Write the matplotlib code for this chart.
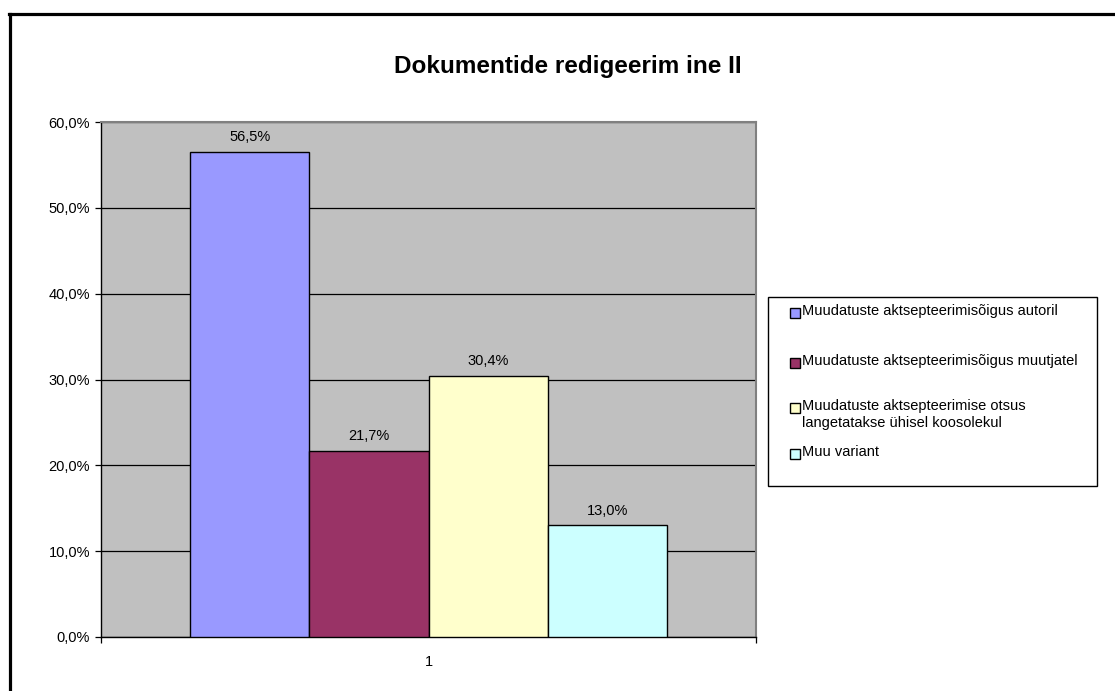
import matplotlib
matplotlib.use("Agg")
import matplotlib.pyplot as plt
from matplotlib.patches import Rectangle
from matplotlib.lines import Line2D
import numpy as np

plt.rcParams["font.family"] = ["Liberation Sans", "DejaVu Sans"]

# data
title = "Dokumentide redigeerim ine II"
categories = ["1"]
series_labels = [
    "Muudatuste aktsepteerimisõigus autoril",
    "Muudatuste aktsepteerimisõigus muutjatel",
    "Muudatuste aktsepteerimise otsus\nlangetatakse ühisel koosolekul",
    "Muu variant",
]
values = [56.5, 21.7, 30.4, 13.0]
value_labels = ["56,5%", "21,7%", "30,4%", "13,0%"]
y_ticks = [0, 10, 20, 30, 40, 50, 60]
y_tick_labels = ["0,0%", "10,0%", "20,0%", "30,0%", "40,0%", "50,0%", "60,0%"]

# styling
colors = ["#9999ff", "#993366", "#ffffcc", "#ccffff"]
W, H = 1115, 691
fs = 10.5

fig = plt.figure(figsize=(W / 100, H / 100), dpi=100)
fig.patch.set_facecolor("white")

# outer chart frame (only top and left visible in the crop)
fig.add_artist(Line2D([9.5 / W, 9.5 / W], [0, 1 - 13.5 / H], transform=fig.transFigure,
                      color="black", lw=2.3))
fig.add_artist(Line2D([8.5 / W, 1], [1 - 13.5 / H, 1 - 13.5 / H], transform=fig.transFigure,
                      color="black", lw=2.3))

ax = fig.add_axes([101 / W, 1 - 637 / H, (756 - 101) / W, (637 - 122) / H])
ax.set_facecolor("#c0c0c0")

# Excel-like clustered columns: gap width 150%
n = len(values)
bar_w = 1 / (n + 1.5)
start = 0.75 * bar_w
for i, (v, c) in enumerate(zip(values, colors)):
    x = start + i * bar_w
    ax.bar(x, v, width=bar_w, align="edge", color=c, edgecolor="black", linewidth=1.0, zorder=3)
    ax.annotate(value_labels[i], (x + bar_w / 2, v), xytext=(0, 10.5), textcoords="offset points",
                ha="center", va="center", fontsize=fs, color="black", zorder=4)

ax.set_xlim(0, 1)
ax.set_ylim(0, 60)
ax.set_yticks(y_ticks)
ax.set_yticklabels(y_tick_labels, fontsize=fs)
ax.yaxis.grid(True, color="black", linewidth=0.9, zorder=1)
ax.set_axisbelow(True)
ax.tick_params(axis="y", direction="out", length=4.5, width=0.9, pad=3.5)

ax.set_xticks([0.5])
ax.set_xticklabels(categories, fontsize=fs)
ax.set_xticks([0, 1], minor=True)
ax.tick_params(axis="x", which="major", length=0, pad=13)
ax.tick_params(axis="x", which="minor", direction="out", length=4, width=0.9)

for side in ["left", "bottom"]:
    ax.spines[side].set_color("black")
    ax.spines[side].set_linewidth(1.0)
for side in ["top", "right"]:
    ax.spines[side].set_color("#808080")
    ax.spines[side].set_linewidth(1.5)

# title
fig.text(568 / W, 1 - 66 / H, title, ha="center", va="center", fontsize=17.5, fontweight="bold")

# legend drawn as a box with entries
lx0, lx1, ly0, ly1 = 768, 1097, 297, 486
fig.add_artist(Rectangle((lx0 / W, 1 - ly1 / H), (lx1 - lx0) / W, (ly1 - ly0) / H,
                         transform=fig.transFigure, facecolor="white", edgecolor="black", lw=1.0))
entry_y = [313, 363, 408, 454]
for lab, c, y in zip(series_labels, colors, entry_y):
    fig.add_artist(Rectangle((790 / W, 1 - (y + 5) / H), 10 / W, 10 / H, transform=fig.transFigure,
                             facecolor=c, edgecolor="black", lw=1.0))
    fig.text(802 / W, 1 - (y - 8.5) / H, lab, ha="left", va="top", fontsize=fs, linespacing=1.2)

fig.savefig("out.png", dpi=100, facecolor="white")
